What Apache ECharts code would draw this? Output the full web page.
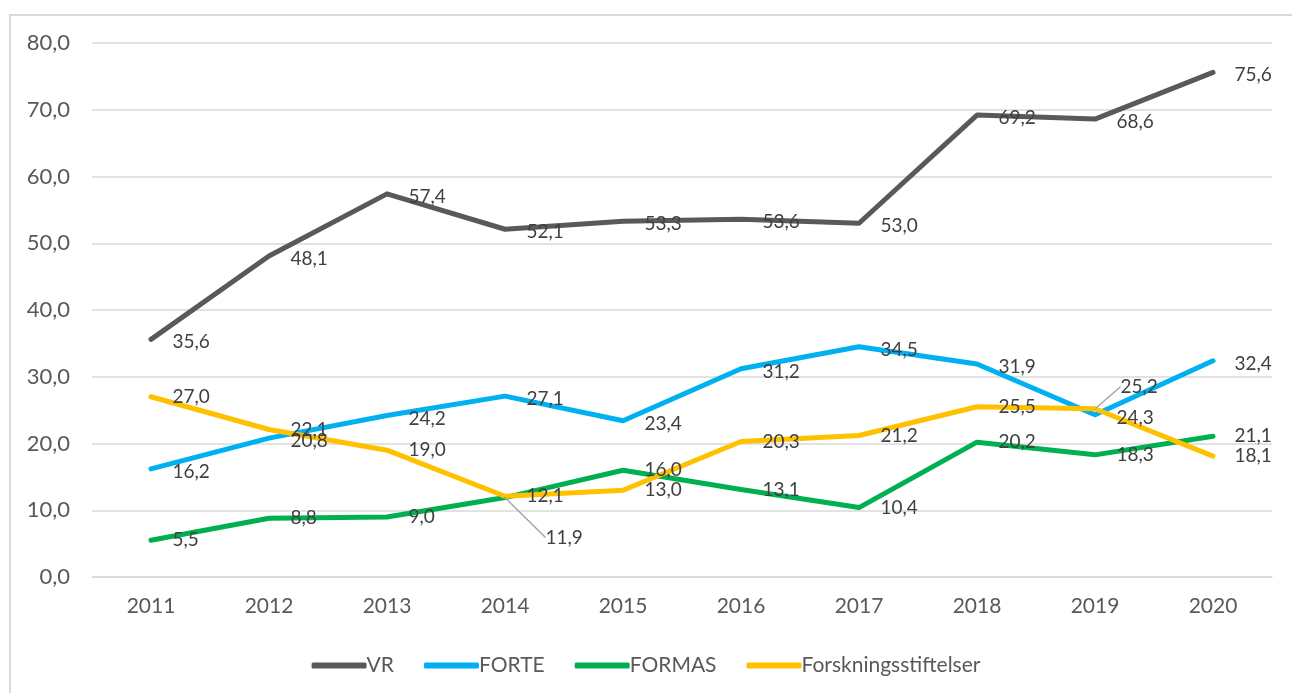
<!DOCTYPE html>
<html>
<head>
<meta charset="utf-8">
<script src="https://cdn.jsdelivr.net/npm/echarts@6/dist/echarts.min.js"></script>
<style>
html,body{margin:0;padding:0;background:#fff;}
#frame{position:absolute;left:9px;top:14px;width:1400px;height:800px;border-left:2px solid #d9d9d9;border-top:2px solid #d9d9d9;box-sizing:border-box;}
#main{position:absolute;left:0;top:0;width:1292px;height:693px;}
</style>
</head>
<body>
<div id="frame"></div>
<div id="main"></div>
<script>
const years = ['2011','2012','2013','2014','2015','2016','2017','2018','2019','2020'];
const vr = [35.6, 48.1, 57.4, 52.1, 53.3, 53.6, 53.0, 69.2, 68.6, 75.6];
const forte = [16.2, 20.8, 24.2, 27.1, 23.4, 31.2, 34.5, 31.9, 24.3, 32.4];
const formas = [5.5, 8.8, 9.0, 11.9, 16.0, 13.1, 10.4, 20.2, 18.3, 21.1];
const forsk = [27.0, 22.1, 19.0, 12.1, 13.0, 20.3, 21.2, 25.5, 25.2, 18.1];
const yTicks = [0, 10, 20, 30, 40, 50, 60, 70, 80];

const FONT = 'Lato, "Open Sans", sans-serif';
const fmt = v => v.toFixed(1).replace('.', ',');

function withLeader(values, idx) {
  return values.map((v, i) => {
    if (i !== idx) return v;
    return { value: v, labelLine: { show: true, lineStyle: { color: '#a6a6a6', width: 1.5 } } };
  });
}

function mkSeries(name, data, color, leaderIdx, leaderMove) {
  return {
    name: name,
    type: 'line',
    data: leaderIdx != null ? withLeader(data, leaderIdx) : data,
    symbol: 'circle',
    symbolSize: 1,
    showSymbol: true,
    lineStyle: { color: color, width: 5, cap: 'round', join: 'round' },
    itemStyle: { color: color },
    label: {
      show: true,
      position: 'right',
      distance: 21,
      offset: [0, 3],
      color: '#404040',
      fontSize: 19,
      fontFamily: FONT,
      formatter: p => fmt(p.value)
    },
    labelLayout: leaderIdx != null ? function (p) {
      if (p.dataIndex === leaderIdx) return { dx: leaderMove[0], dy: leaderMove[1] };
      return {};
    } : undefined,
    emphasis: { disabled: true },
    animation: false,
    z: 2
  };
}

const chart = echarts.init(document.getElementById('main'), null, { renderer: 'canvas' });
chart.setOption({
  animation: false,
  textStyle: { fontFamily: FONT },
  grid: { left: 92, right: 20, top: 43, bottom: 116, containLabel: false },
  legend: {
    top: 650,
    left: 'center',
    icon: 'roundRect',
    itemWidth: 55,
    itemHeight: 6,
    itemGap: 30,
    textStyle: { color: '#595959', fontSize: 21, fontFamily: FONT, padding: [0, 0, 0, -5] },
    data: ['VR', 'FORTE', 'FORMAS', 'Forskningsstiftelser']
  },
  xAxis: {
    type: 'category',
    data: years,
    boundaryGap: true,
    axisLine: { show: true, lineStyle: { color: '#d9d9d9', width: 1.5 } },
    axisTick: { show: false },
    axisLabel: { color: '#595959', fontSize: 21, fontFamily: FONT, margin: 19 }
  },
  yAxis: {
    type: 'value',
    min: yTicks[0],
    max: yTicks[yTicks.length - 1],
    interval: 10,
    axisLine: { show: false },
    axisTick: { show: false },
    splitLine: { lineStyle: { color: '#d9d9d9', width: 1.5 } },
    axisLabel: { color: '#595959', fontSize: 22, fontFamily: FONT, margin: 22, formatter: v => fmt(v) }
  },
  series: [
    mkSeries('VR', vr, '#595959'),
    mkSeries('FORTE', forte, '#00b0f0'),
    mkSeries('FORMAS', formas, '#00b050', 3, [19, 40]),
    mkSeries('Forskningsstiftelser', forsk, '#ffc000', 8, [4, -22])
  ]
});
</script>
</body>
</html>
